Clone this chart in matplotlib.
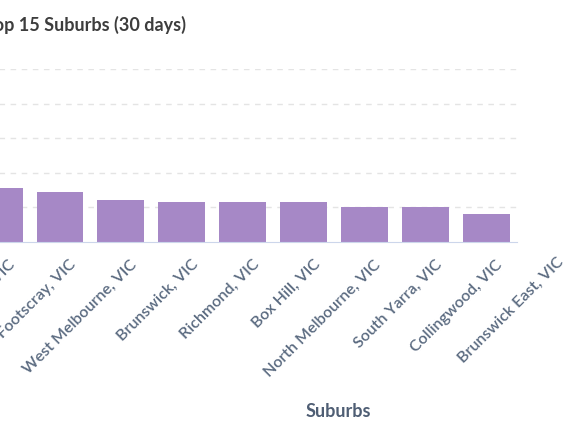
import numpy as np
from matplotlib import pyplot as plt

suburbs = ['Melbourne, VIC', 'Footscray, VIC', 'West Melbourne, VIC', 'Brunswick, VIC',
           'Richmond, VIC', 'Box Hill, VIC', 'North Melbourne, VIC', 'South Yarra, VIC',
           'Collingwood, VIC', 'Brunswick East, VIC']
counts = [31, 29, 24, 23, 23, 23, 20, 20, 16, 14]

labelColor = '#5a6a80'

def main():
    fig = plt.figure(figsize=(5.8, 4.35), dpi=100)
    ax = fig.add_axes([-0.054, 0.4414, 0.945, 0.3977])

    shown = len(suburbs) - 1
    x = np.arange(len(suburbs))
    ax.bar(x[:shown], counts[:shown], width=0.77, color='#a688c6', zorder=2)

    ax.set_xlim(-0.5, shown - 0.5)
    ax.set_ylim(0, 100)
    ax.set_yticks([20, 40, 60, 80, 100])
    ax.yaxis.grid(True, color='#e4e4e4', linestyle=(0, (4, 4)), linewidth=1)
    ax.tick_params(left=False, labelleft=False, bottom=False)
    for side in ['top', 'left', 'right']:
        ax.spines[side].set_visible(False)
    ax.spines['bottom'].set_color('#ccd6eb')

    ax.set_xticks(x[:shown] + 0.15)
    ax.set_xticklabels(suburbs[:shown], rotation=45, ha='right', rotation_mode='anchor',
                       fontsize=11.5, fontweight='semibold', color=labelColor, family='Lato')
    ax.tick_params(axis='x', pad=7)
    # last label sits outside the plot area
    ax.text(x[shown] + 0.15, -7, suburbs[shown], rotation=45, ha='right', va='top',
            rotation_mode='anchor', fontsize=11.5, fontweight='semibold', color=labelColor,
            family='Lato', clip_on=False)

    fig.text(0.583, 0.055, 'Suburbs', ha='center', va='center', fontsize=13,
             fontweight='bold', color='#4f5e74', family='Lato')
    fig.text(-0.03, 0.943, 'Top 15 Suburbs (30 days)', ha='left', va='center', fontsize=13,
             fontweight='bold', color='#3d3d3d', family='Lato')

    fig.savefig('out.png', dpi=100)

if __name__ == "__main__":
    main()
